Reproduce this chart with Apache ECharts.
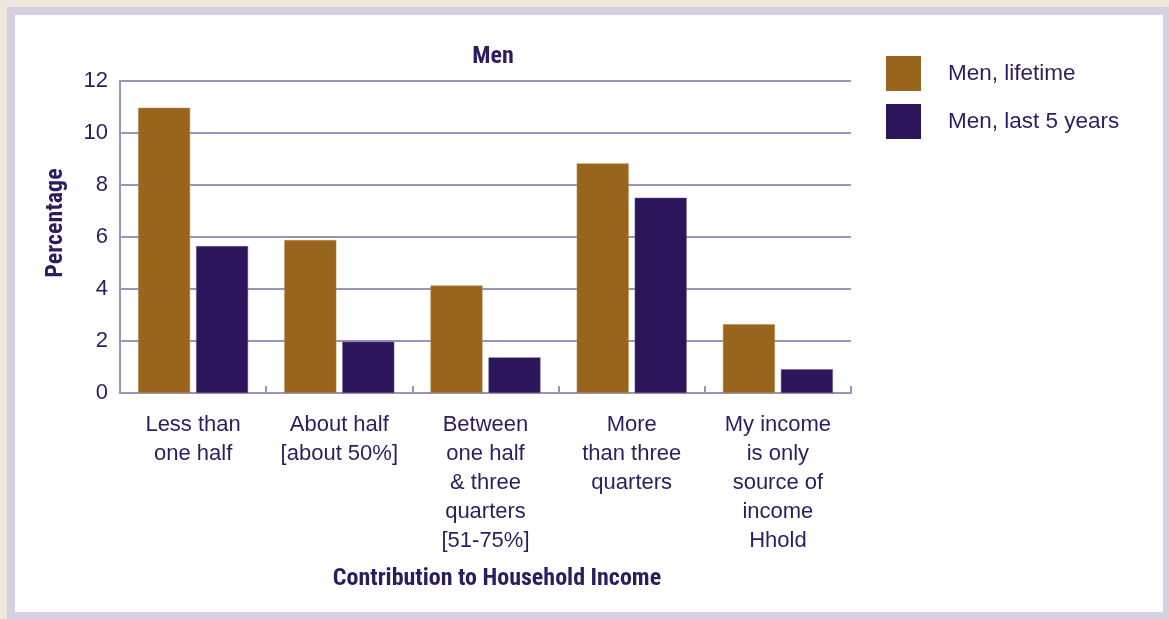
<!DOCTYPE html>
<html>
<head>
<meta charset="utf-8">
<script src="https://cdn.jsdelivr.net/npm/echarts@6/dist/echarts.min.js"></script>
<style>
html,body{margin:0;padding:0;width:1169px;height:619px;overflow:hidden;background:#efe7dc;}
#frame{position:absolute;left:7px;top:7px;width:1162px;height:612px;background:#d5d1e1;}
#inner{position:absolute;left:15px;top:15px;width:1148px;height:597px;background:#ffffff;}
#chart{position:absolute;left:0;top:0;width:1169px;height:619px;}
</style>
</head>
<body>
<div id="frame"></div>
<div id="inner"></div>
<div id="chart"></div>
<script>
const categories = [
  "Less than\none half",
  "About half\n[about 50%]",
  "Between\none half\n& three\nquarters\n[51-75%]",
  "More\nthan three\nquarters",
  "My income\nis only\nsource of\nincome\nHhold"
];
const lifetime = [10.97, 5.88, 4.13, 8.83, 2.64];
const last5 = [5.65, 1.97, 1.37, 7.51, 0.91];
const yTicks = [0, 2, 4, 6, 8, 10, 12];

const textColor = '#2e1d5e';
const lineColor = '#9d93ba';
const boldFont = "'Liberation Sans Narrow', 'Arial Narrow', 'Roboto Condensed', 'Liberation Sans', sans-serif";
const regFont = "'Liberation Sans', Arial, sans-serif";

const chart = echarts.init(document.getElementById('chart'), null, {renderer: 'canvas'});
chart.setOption({
  backgroundColor: 'transparent',
  animation: false,
  title: {
    text: 'Men',
    left: 493,
    top: 45,
    padding: 0,
    textAlign: 'center',
    textStyle: {fontFamily: boldFont, fontWeight: 'bold', fontSize: 24, color: textColor}
  },
  legend: {
    left: 886,
    top: 56,
    padding: 0,
    orient: 'vertical',
    itemWidth: 35,
    itemHeight: 35,
    itemGap: 13,
    icon: 'rect',
    itemStyle: {borderWidth: 0},
    textStyle: {fontFamily: regFont, fontSize: 22.5, color: textColor, padding: [5, 0, 0, 22]},
    data: ['Men, lifetime', 'Men, last 5 years']
  },
  grid: {left: 120, right: 1169 - 851, top: 81, bottom: 619 - 393, containLabel: false},
  xAxis: {
    type: 'category',
    data: categories,
    name: 'Contribution to Household Income',
    nameLocation: 'middle',
    nameGap: 172,
    nameTextStyle: {fontFamily: boldFont, fontWeight: 'bold', fontSize: 24, color: textColor, padding: [2, 0, 0, 23]},
    axisLine: {lineStyle: {color: lineColor, width: 2}},
    axisTick: {show: true, inside: true, length: 7, lineStyle: {color: lineColor, width: 2}},
    axisLabel: {
      interval: 0, margin: 17,
      fontFamily: regFont,
      fontSize: 22, lineHeight: 29, color: textColor
    }
  },
  yAxis: {
    type: 'value',
    min: 0, max: 12, interval: 2,
    axisLine: {show: true, lineStyle: {color: lineColor, width: 2}},
    axisTick: {show: false},
    splitLine: {show: true, lineStyle: {color: lineColor, width: 2}},
    axisLabel: {
      margin: 12,
      fontFamily: regFont,
      fontSize: 22, color: textColor,
      formatter: function (v) { return yTicks.indexOf(v) >= 0 ? String(v) : ''; }
    }
  },
  graphic: [{
    type: 'text',
    x: 56, y: 223,
    rotation: Math.PI / 2,
    style: {
      text: 'Percentage',
      fontFamily: boldFont, fontWeight: 'bold', fontSize: 24, fill: textColor,
      textAlign: 'center', textVerticalAlign: 'middle'
    }
  }],
  series: [
    {
      name: 'Men, lifetime', type: 'bar', data: lifetime,
      barWidth: 52, barGap: '11.5%',
      itemStyle: {color: '#99651c', borderColor: '#b08a55', borderWidth: 0.5}
    },
    {
      name: 'Men, last 5 years', type: 'bar', data: last5,
      barWidth: 52,
      itemStyle: {color: '#2c155a', borderColor: '#6a5a8a', borderWidth: 0.5}
    }
  ]
});
</script>
</body>
</html>
